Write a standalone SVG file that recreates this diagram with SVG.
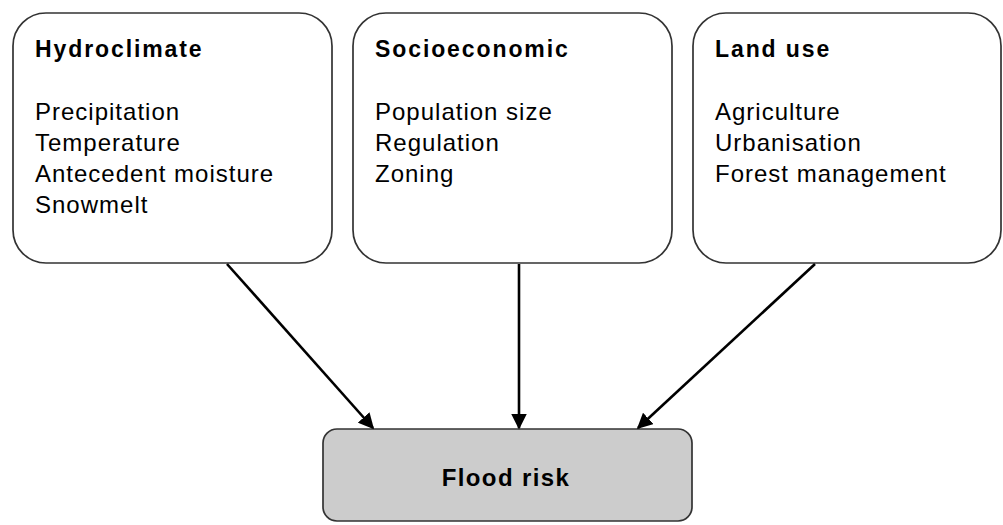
<svg xmlns="http://www.w3.org/2000/svg" width="1003" height="525" viewBox="0 0 1003 525">
<defs>
<style>
.box{fill:#ffffff;stroke:#333333;stroke-width:1.7}
.res{fill:#cccccc;stroke:#333333;stroke-width:1.7}
.title{font-family:"Liberation Sans",Arial,sans-serif;font-weight:bold;font-size:23px;letter-spacing:1.9px;fill:#000}
.flood{font-family:"Liberation Sans",Arial,sans-serif;font-weight:bold;font-size:24px;letter-spacing:1.4px;fill:#000}
.item{font-family:"Liberation Sans",Arial,sans-serif;font-size:24px;letter-spacing:1px;fill:#000}
.edge{stroke:#000;stroke-width:2.6;fill:none;marker-end:url(#arr)}
</style>
<marker id="arr" viewBox="0 0 10 10" refX="9" refY="5" markerWidth="6" markerHeight="6" orient="auto" markerUnits="strokeWidth">
<path d="M0,0 L10,5 L0,10 z" fill="#000"/>
</marker>
</defs>
<rect width="1003" height="525" fill="#ffffff"/>
<g id="hydroclimate">
<rect class="box" x="13" y="13" width="319" height="250" rx="33" ry="33"/>
<text class="title" x="35" y="57">Hydroclimate</text>
<text class="item" x="35" y="120">Precipitation</text>
<text class="item" x="35" y="151">Temperature</text>
<text class="item" x="35" y="182">Antecedent moisture</text>
<text class="item" x="35" y="213">Snowmelt</text>
</g>
<g id="socioeconomic">
<rect class="box" x="353" y="13" width="319" height="250" rx="33" ry="33"/>
<text class="title" x="375" y="57">Socioeconomic</text>
<text class="item" x="375" y="120">Population size</text>
<text class="item" x="375" y="151">Regulation</text>
<text class="item" x="375" y="182">Zoning</text>
</g>
<g id="landuse">
<rect class="box" x="693" y="13" width="308" height="250" rx="33" ry="33"/>
<text class="title" x="715" y="57">Land use</text>
<text class="item" x="715" y="120">Agriculture</text>
<text class="item" x="715" y="151">Urbanisation</text>
<text class="item" x="715" y="182">Forest management</text>
</g>
<g id="floodrisk">
<rect class="res" x="323" y="429" width="369" height="92" rx="14" ry="14"/>
<text class="flood" x="506" y="486" text-anchor="middle">Flood risk</text>
</g>
<g id="connectors">
<line class="edge" x1="227" y1="264" x2="373" y2="428"/>
<line class="edge" x1="519" y1="264" x2="519" y2="428"/>
<line class="edge" x1="815" y1="264" x2="638" y2="428"/>
</g>
</svg>
